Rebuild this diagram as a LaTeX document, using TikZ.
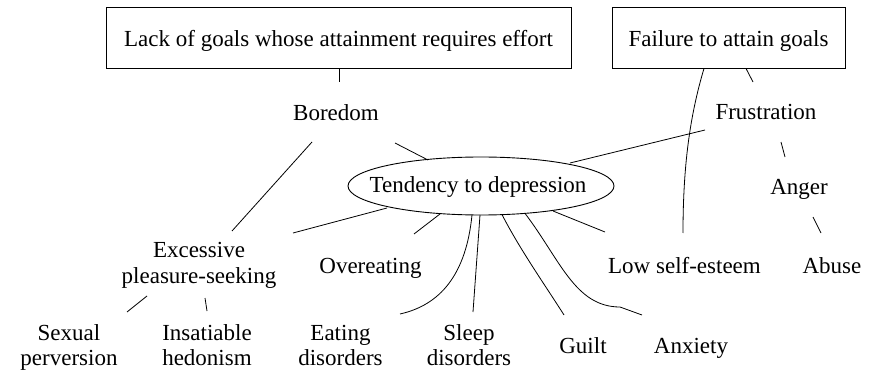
\documentclass[tikz,border=0pt]{standalone}
\usepackage{fontspec}
\setmainfont{Liberation Serif}
\usetikzlibrary{shapes.geometric}
\tikzset{
  lbl/.style={anchor=base, inner sep=0pt, align=center, font=\fontsize{23}{25}\selectfont},
  goalbox/.style={draw, line width=0.9pt, inner xsep=0pt, inner ysep=0pt, text height=40pt, text depth=21pt, font=\fontsize{23}{25}\selectfont},
  ell/.style={draw, line width=0.9pt, ellipse, inner sep=0pt, minimum width=266pt, minimum height=58pt},
  conn/.style={draw, line width=0.8pt}
}
\begin{document}
\begin{tikzpicture}[x=1pt,y=-1pt]
\useasboundingbox (0,0) rectangle (878,374);
% boxes
\node[goalbox, minimum width=465pt] (box1) at (338.5,37.5) {Lack of goals whose attainment requires effort};
\node[goalbox, minimum width=233pt] (box2) at (728.5,37.5) {Failure to attain goals};
% ellipse
\node[ell] (tend) at (481,186) {};
\node[lbl] (tendtext) at (478,193) {Tendency to depression};
% labels (multi-line labels are placed by the baseline of their last line)
\node[lbl] (bored) at (336,121) {Boredom};
\node[lbl] (frus) at (766,120) {Frustration};
\node[lbl] (anger) at (799,195) {Anger};
\node[lbl] (exc) at (199,283) {Excessive\\pleasure-seeking};
\node[lbl] (over) at (370.5,273) {Overeating};
\node[lbl] (low) at (684.5,273) {Low self-esteem};
\node[lbl] (abuse) at (832,273) {Abuse};
\node[lbl] (sex) at (69,365) {Sexual\\perversion};
\node[lbl] (ins) at (207,365) {Insatiable\\hedonism};
\node[lbl] (eat) at (340.5,365) {Eating\\disorders};
\node[lbl] (sleep) at (469,365) {Sleep\\disorders};
\node[lbl] (guilt) at (583,353) {Guilt};
\node[lbl] (anx) at (691,353) {Anxiety};
% connectors
\path[conn] ([shift={(0.5,0)}]box1.south) -- ([shift={(3,-39)}]bored.base);
\path[conn] ([shift={(17.5,0)}]box2.south) -- ([shift={(-13,-38)}]frus.base);
\path[conn] ([shift={(-24.5,0)}]box2.south) .. controls +(-14,47) and +(0,-68) .. ([shift={(-1.5,-40)}]low.base);
\path[conn] ([shift={(-61,10)}]frus.base) -- ([shift={(89,-23)}]tend.center);
\path[conn] ([shift={(59,22)}]bored.base) -- ([shift={(-53,-26)}]tend.center);
\path[conn] ([shift={(-24,21)}]bored.base) -- ([shift={(33,-52)}]exc.base);
\path[conn] ([shift={(94,-50)}]exc.base) -- ([shift={(-94,22)}]tend.center);
\path[conn] ([shift={(43.5,-39)}]over.base) -- ([shift={(-41,28)}]tend.center);
\path[conn] ([shift={(-9,29)}]tend.center) .. controls +(-6,60) and +(40,-9) .. ([shift={(59.5,-51)}]eat.base);
\path[conn] ([shift={(-1,29)}]tend.center) -- ([shift={(4,-53)}]sleep.base);
\path[conn] ([shift={(21,28.6)}]tend.center) .. controls +(18,35) and +(-19,-30) .. ([shift={(-19,-38)}]guilt.base);
\path[conn] ([shift={(44,27.4)}]tend.center) .. controls +(35,46) and +(-45,0) .. ([shift={(-71,-46)}]anx.base) -- ([shift={(-49,-38)}]anx.base);
\path[conn] ([shift={(72,25)}]tend.center) -- ([shift={(-79.5,-41)}]low.base);
\path[conn] ([shift={(15,22)}]frus.base) -- ([shift={(-14,-38)}]anger.base);
\path[conn] ([shift={(14,22)}]anger.base) -- ([shift={(-11,-40)}]abuse.base);
\path[conn] ([shift={(-52,13)}]exc.base) -- ([shift={(58,-53)}]sex.base);
\path[conn] ([shift={(6,15)}]exc.base) -- ([shift={(0,-54)}]ins.base);
\end{tikzpicture}
\end{document}
